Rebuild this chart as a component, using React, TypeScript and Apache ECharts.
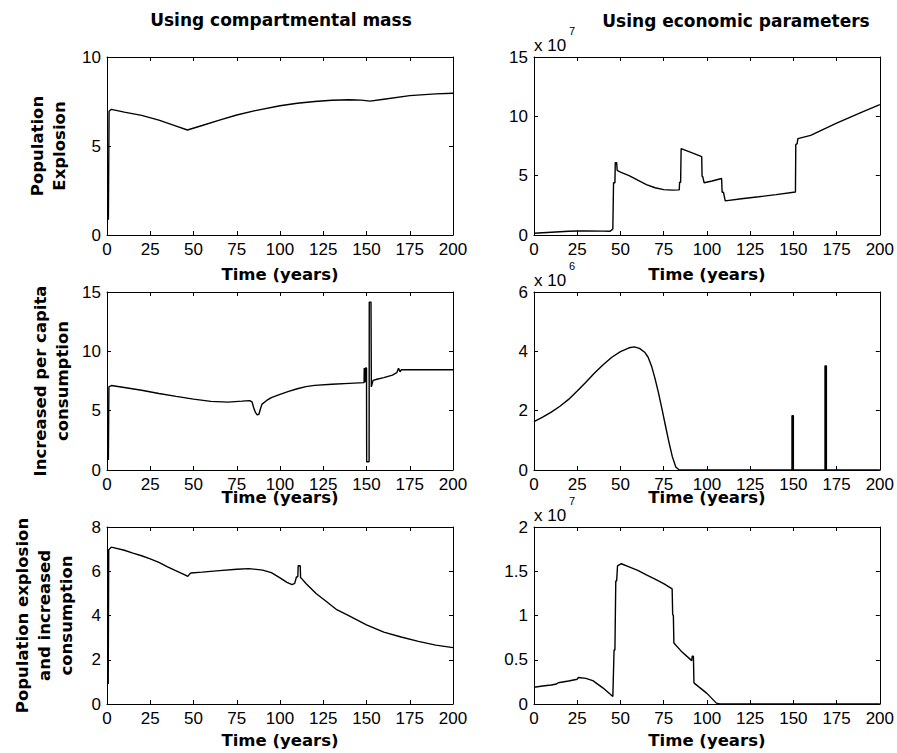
import React, { useEffect, useRef } from "react";
import * as echarts from "echarts";

// ---------- data ----------
const xTicks = [0, 25, 50, 75, 100, 125, 150, 175, 200];

// Row 1 left: Population Explosion, compartmental mass
const popCompT = [0.8, 1.2, 2.5, 10, 20, 30, 40, 46.5, 55, 65, 75, 85, 100, 110, 120, 130, 140, 147, 152, 160, 175, 190, 200];
const popCompV = [0.85, 6.95, 7.06, 6.9, 6.72, 6.45, 6.12, 5.9, 6.15, 6.45, 6.74, 6.97, 7.26, 7.4, 7.5, 7.57, 7.6, 7.58, 7.52, 7.63, 7.83, 7.93, 7.96];

// Row 1 right: Population Explosion, economic parameters (x 10^7)
const popEconT = [0, 10, 20, 25, 30, 40, 44, 45.2, 45.6, 46, 46.8, 47, 47.8, 48.1, 50, 55, 60, 65, 70, 75, 80, 84, 84.2, 84.8, 85.1, 90, 97, 97.2, 97.6, 98.4, 103, 108.5, 108.8, 109.6, 110.6, 120, 130, 140, 151.2, 151.4, 152.2, 152.6, 160, 175, 190, 200];
const popEconV = [0.15, 0.23, 0.31, 0.34, 0.35, 0.33, 0.31, 0.45, 0.5, 4.4, 4.4, 6.1, 6.1, 5.45, 5.3, 5.0, 4.62, 4.25, 3.98, 3.82, 3.78, 3.8, 4.45, 4.45, 7.28, 7.0, 6.6, 4.95, 4.92, 4.4, 4.55, 4.76, 3.6, 3.6, 2.88, 3.05, 3.22, 3.4, 3.62, 7.62, 7.7, 8.12, 8.4, 9.42, 10.38, 10.98];

// Row 2 left: Increased per capita consumption, compartmental mass
const consCompT = [0.8, 1.1, 2.5, 10, 20, 30, 40, 50, 60, 70, 78, 82.5, 83.8, 84.8, 85.8, 86.8, 87.8, 88.8, 89.6, 92.3, 95, 100, 105, 110, 115, 120, 130, 140, 148.6, 148.7, 149.2, 149.4, 150, 150.1, 151.5, 151.6, 152.6, 152.8, 153.8, 156, 160, 165, 167.5, 168.5, 169.4, 170.2, 171, 200];
const consCompV = [0.85, 7.0, 7.12, 6.95, 6.72, 6.45, 6.2, 5.97, 5.78, 5.72, 5.8, 5.85, 5.75, 5.25, 4.85, 4.65, 4.7, 5.2, 5.55, 5.86, 6.1, 6.38, 6.62, 6.85, 7.03, 7.13, 7.22, 7.3, 7.36, 8.6, 7.4, 8.6, 8.6, 0.7, 0.7, 14.15, 14.15, 7.0, 7.55, 7.65, 7.78, 8.0, 8.2, 8.58, 8.28, 8.45, 8.45, 8.45];

// Row 2 right: Increased per capita consumption, economic parameters (x 10^6)
const consEconT = [0, 5, 10, 15, 20, 25, 30, 35, 40, 45, 50, 55, 58, 61, 64, 66, 68, 70, 72, 74, 76, 78, 80, 82, 84, 149.2, 149.2, 150.0, 150.0, 168.3, 168.3, 169.1, 169.1, 200];
const consEconV = [1.63, 1.78, 1.95, 2.15, 2.38, 2.66, 2.96, 3.27, 3.55, 3.8, 3.99, 4.12, 4.15, 4.1, 3.97, 3.8, 3.5, 3.08, 2.6, 2.06, 1.5, 0.95, 0.45, 0.1, 0, 0, 1.83, 1.83, 0, 0, 3.51, 3.51, 0, 0];

// Row 3 left: Population explosion and increased consumption, compartmental mass
const bothCompT = [0.7, 1.0, 2.5, 10, 15, 20, 25, 30, 35, 40, 45, 46.7, 47.5, 48.5, 55, 65, 75, 82, 90, 95, 100, 104, 107, 108.5, 109.5, 110.3, 110.5, 111.7, 111.9, 112.3, 115, 121, 127, 132.8, 140, 150, 160, 170, 180, 190, 200];
const bothCompV = [0.9, 6.97, 7.09, 6.95, 6.82, 6.7, 6.56, 6.4, 6.2, 6.02, 5.84, 5.77, 5.85, 5.92, 5.96, 6.03, 6.09, 6.12, 6.05, 5.94, 5.7, 5.5, 5.4, 5.45, 5.74, 5.75, 6.25, 6.25, 5.7, 5.69, 5.45, 4.98, 4.62, 4.26, 3.98, 3.58, 3.25, 3.03, 2.83, 2.66, 2.55];

// Row 3 right: Population explosion and increased consumption, economic parameters (x 10^7)
const bothEconT = [0, 5, 10, 13, 14, 20, 25, 25.7, 30, 34, 35, 40, 45.6, 46, 46.3, 46.8, 47.3, 47.8, 48.3, 50.5, 55, 60, 65, 70, 75, 79.9, 80.2, 80.6, 80.9, 85, 91.2, 91.5, 92.2, 92.5, 93, 100, 105.5, 107.5, 200];
const bothEconV = [0.19, 0.203, 0.215, 0.226, 0.24, 0.26, 0.28, 0.3, 0.29, 0.265, 0.25, 0.18, 0.085, 0.085, 0.61, 0.61, 1.39, 1.39, 1.56, 1.585, 1.55, 1.51, 1.46, 1.41, 1.36, 1.3, 1.01, 1.0, 0.69, 0.6, 0.49, 0.54, 0.54, 0.24, 0.23, 0.12, 0.01, 0, 0];

// y-axis scales and tick labels
const yMax = [10, 15, 15, 6, 8, 2];
const yInterval = [5, 5, 5, 2, 2, 0.5];

const columnTitles = ["Using compartmental mass", "Using economic parameters"];
const rowLabels = [
  "Population\nExplosion",
  "Increased per capita\nconsumption",
  "Population explosion\nand increased\nconsumption",
];
const xName = "Time (years)";
const exponents = [null, 7, null, 6, null, 7];

const panels = [
  [popCompT, popCompV],
  [popEconT, popEconV],
  [consCompT, consCompV],
  [consEconT, consEconV],
  [bothCompT, bothCompV],
  [bothEconT, bothEconV],
];

// ---------- layout ----------
const colLeft = [107, 534];
const plotW = 346;
const rowTop = [57, 292, 527];
const rowH = [178, 178, 177];
const xNameGap = [31, 19, 28];
const yNameGap = [37, 34, 30];

const TICK_FONT = "'Liberation Sans', Arial, Helvetica, sans-serif";
const BOLD_FONT = "'DejaVu Sans', 'Liberation Sans', sans-serif";

export default function App() {
  const ref = useRef<HTMLDivElement>(null);

  useEffect(() => {
    document.body.style.margin = "0";
    if (!ref.current) return;
    const chart = echarts.init(ref.current, undefined, { renderer: "svg" });

    const grids: any[] = [];
    const xAxes: any[] = [];
    const yAxes: any[] = [];
    const series: any[] = [];
    const graphics: any[] = [];

    const axisLine = { show: true, onZero: false, lineStyle: { color: "#000", width: 1 } };
    const axisTick = { show: true, inside: true, length: 4, lineStyle: { color: "#000", width: 1 } };

    panels.forEach(([t, v], i) => {
      const row = Math.floor(i / 2);
      const col = i % 2;
      grids.push({
        left: colLeft[col],
        top: rowTop[row],
        width: plotW,
        height: rowH[row],
        containLabel: false,
      });
      xAxes.push({
        gridIndex: i,
        type: "value",
        position: "bottom",
        min: 0,
        max: 200,
        interval: 25,
        axisLine,
        axisTick,
        splitLine: { show: false },
        axisLabel: {
          show: true,
          color: "#000",
          fontSize: 17,
          fontFamily: TICK_FONT,
          margin: 6,
          formatter: (val: number) => (xTicks.includes(val) ? String(val) : ""),
        },
        name: xName,
        nameLocation: "middle",
        nameGap: xNameGap[row],
        nameMoveOverlap: false,
        nameTextStyle: { color: "#000", fontSize: 16.5, fontWeight: "bold", fontFamily: BOLD_FONT },
      });
      yAxes.push({
        gridIndex: i,
        type: "value",
        position: "left",
        min: 0,
        max: yMax[i],
        interval: yInterval[i],
        axisLine,
        axisTick,
        splitLine: { show: false },
        axisLabel: { show: true, color: "#000", fontSize: 17, fontFamily: TICK_FONT, margin: 6 },
        name: col === 0 ? rowLabels[row] : "",
        nameLocation: "middle",
        nameRotate: 90,
        nameGap: yNameGap[row],
        nameMoveOverlap: false,
        nameTextStyle: {
          color: "#000",
          fontSize: 16.5,
          fontWeight: "bold",
          fontFamily: BOLD_FONT,
          lineHeight: 22,
          align: "center",
        },
      });
      series.push({
        type: "line",
        xAxisIndex: i,
        yAxisIndex: i,
        data: t.map((x, k) => [x, v[k]]),
        showSymbol: false,
        symbol: "none",
        lineStyle: { color: "#000", width: 1.4 },
        silent: true,
      });
      const exp = exponents[i];
      if (exp !== null) {
        const cy = rowTop[row] - 11.5;
        graphics.push({
          type: "text",
          left: colLeft[col],
          top: cy - 9,
          style: { text: "x 10", font: `17px ${TICK_FONT}`, fill: "#000" },
        });
        graphics.push({
          type: "text",
          left: colLeft[col] + 35,
          top: cy - 20,
          style: { text: String(exp), font: `11px ${TICK_FONT}`, fill: "#000" },
        });
      }
    });

    // mirrored top / right axes to box each panel
    panels.forEach((_, i) => {
      xAxes.push({
        gridIndex: i,
        type: "value",
        position: "top",
        min: 0,
        max: 200,
        interval: 25,
        axisLine,
        axisTick,
        axisLabel: { show: false },
        splitLine: { show: false },
      });
      yAxes.push({
        gridIndex: i,
        type: "value",
        position: "right",
        min: 0,
        max: yMax[i],
        interval: yInterval[i],
        axisLine,
        axisTick,
        axisLabel: { show: false },
        splitLine: { show: false },
      });
    });

    graphics.push({
      type: "text",
      x: 281,
      y: 20,
      style: {
        text: columnTitles[0],
        font: `bold 17px ${BOLD_FONT}`,
        fill: "#000",
        align: "center",
        verticalAlign: "middle",
      },
    });
    graphics.push({
      type: "text",
      x: 736,
      y: 21,
      style: {
        text: columnTitles[1],
        font: `bold 17px ${BOLD_FONT}`,
        fill: "#000",
        align: "center",
        verticalAlign: "middle",
      },
    });

    chart.setOption({
      animation: false,
      backgroundColor: "#fff",
      grid: grids,
      xAxis: xAxes,
      yAxis: yAxes,
      series,
      graphic: graphics,
    });

    return () => chart.dispose();
  }, []);

  return <div ref={ref} style={{ width: 897, height: 753 }} />;
}
